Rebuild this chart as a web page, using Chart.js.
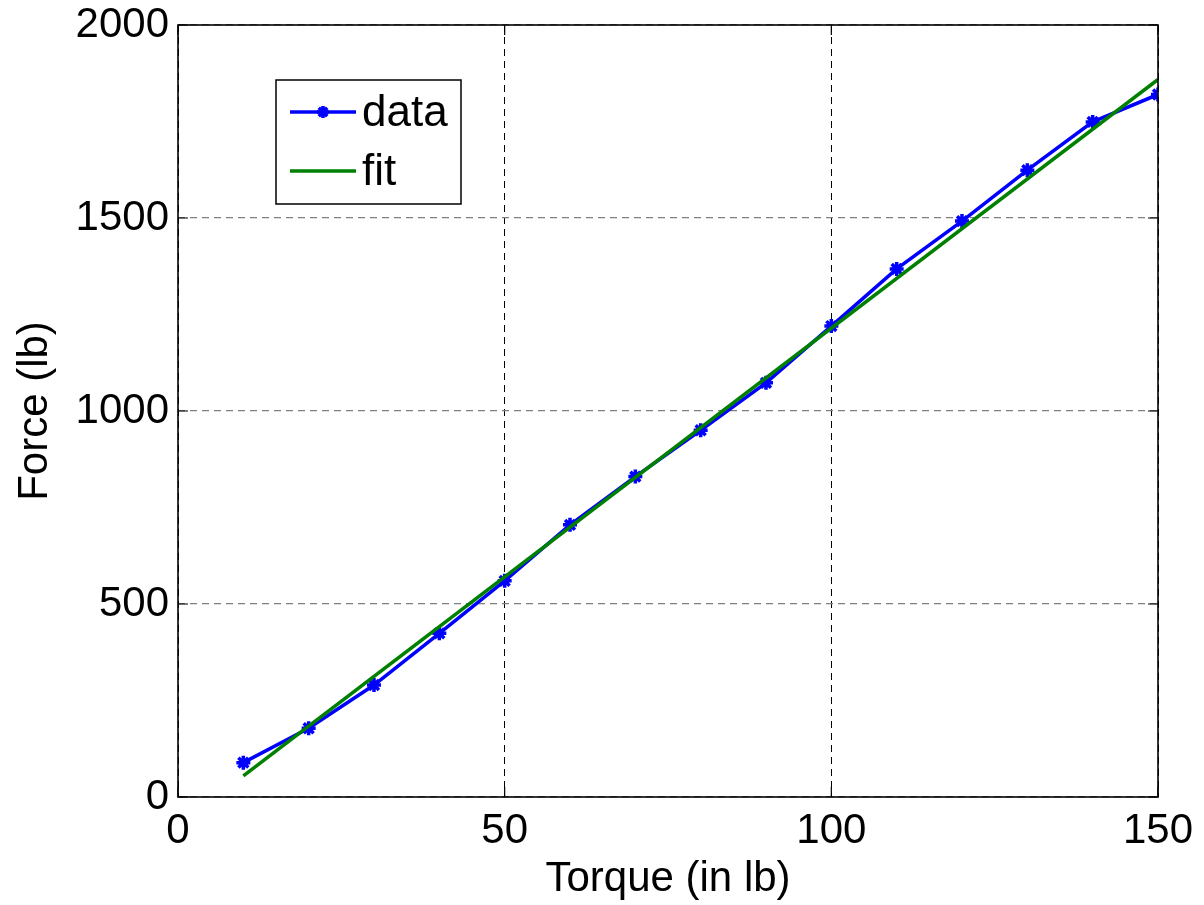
<!DOCTYPE html>
<html>
<head>
<meta charset="utf-8">
<script src="https://cdn.jsdelivr.net/npm/chart.js@4/dist/chart.umd.min.js"></script>
<style>
html,body{margin:0;padding:0;background:#fff;}
#wrap{width:1204px;height:905px;position:relative;}
</style>
</head>
<body>
<div id="wrap"><canvas id="c" width="1204" height="905"></canvas></div>
<script>
const torque = [10, 20, 30, 40, 50, 60, 70, 80, 90, 100, 110, 120, 130, 140, 150];
const force = [89, 178, 290, 424, 560, 705, 830, 950, 1073, 1220, 1368, 1492, 1624, 1749, 1820];
const fitX = [10, 150];
const fitY = [55, 1859];
const xTicks = [0, 50, 100, 150];
const yTicks = [0, 500, 1000, 1500, 2000];
const xTitle = 'Torque (in lb)';
const yTitle = 'Force (lb)';
const seriesLabels = ['data', 'fit'];

const FONT = 'Liberation Sans, Arial, sans-serif';

const boxPlugin = {
  id: 'boxPlugin',
  afterDatasetsDraw(chart) {
    const {ctx, chartArea: a, scales} = chart;
    ctx.save();
    // inward ticks
    ctx.strokeStyle = '#000';
    ctx.lineWidth = 1.2;
    ctx.beginPath();
    xTicks.forEach(v => {
      const x = scales.x.getPixelForValue(v);
      ctx.moveTo(x, a.bottom); ctx.lineTo(x, a.bottom - 10);
      ctx.moveTo(x, a.top); ctx.lineTo(x, a.top + 10);
    });
    yTicks.forEach(v => {
      const y = scales.y.getPixelForValue(v);
      ctx.moveTo(a.left, y); ctx.lineTo(a.left + 10, y);
      ctx.moveTo(a.right, y); ctx.lineTo(a.right - 10, y);
    });
    ctx.stroke();
    // box
    ctx.lineWidth = 1.6;
    ctx.strokeRect(a.left, a.top, a.right - a.left, a.bottom - a.top);
    // legend
    const lx = 276, ly = 80, lw = 185, lh = 124;
    ctx.fillStyle = '#fff';
    ctx.fillRect(lx, ly, lw, lh);
    ctx.strokeStyle = '#000';
    ctx.lineWidth = 1.5;
    ctx.strokeRect(lx, ly, lw, lh);
    const rows = [112, 171];
    chart.data.datasets.forEach((ds, i) => {
      const y = rows[i];
      ctx.strokeStyle = ds.borderColor;
      ctx.lineWidth = 3.5;
      ctx.beginPath();
      ctx.moveTo(290, y); ctx.lineTo(356, y);
      ctx.stroke();
      if (ds.pointRadius > 0) {
        ctx.fillStyle = ds.borderColor;
        Chart.helpers.drawPoint(ctx, {pointStyle: 'star', radius: 6, borderWidth: 3, rotation: 0}, 323, y);
      }
      ctx.fillStyle = '#000';
      ctx.font = '44px ' + FONT;
      ctx.textBaseline = 'middle';
      ctx.textAlign = 'left';
      ctx.fillText(ds.label, 362, y + 2);
    });
    ctx.restore();
  }
};

new Chart(document.getElementById('c'), {
  type: 'scatter',
  data: {
    datasets: [
      {
        label: seriesLabels[0],
        data: torque.map((t, i) => ({x: t, y: force[i]})),
        showLine: true,
        borderColor: '#0000ff',
        backgroundColor: '#0000ff',
        borderWidth: 3.5,
        pointStyle: 'star',
        pointRadius: 7,
        pointBorderWidth: 3.5,
        pointBorderColor: '#0000ff',
        order: 1
      },
      {
        label: seriesLabels[1],
        data: fitX.map((t, i) => ({x: t, y: fitY[i]})),
        showLine: true,
        borderColor: '#008000',
        backgroundColor: '#008000',
        borderWidth: 3.5,
        pointRadius: 0,
        order: 0
      }
    ]
  },
  options: {
    responsive: false,
    animation: false,
    devicePixelRatio: 1,
    layout: {padding: {left: 0, right: 46, top: 25, bottom: 0}},
    plugins: {legend: {display: false}, tooltip: {enabled: false}},
    scales: {
      x: {
        type: 'linear', min: 0, max: 150,
        afterBuildTicks: s => { s.ticks = xTicks.map(v => ({value: v})); },
        afterFit: s => { s.height = 108; s.paddingLeft = 0; s.paddingRight = 0; },
        grid: {color: '#000', lineWidth: 1, drawTicks: false},
        border: {display: false, dash: [7, 5]},
        ticks: {color: '#000', font: {family: FONT, size: 42}, padding: 9, maxRotation: 0, callback: v => String(v)},
        title: {display: true, text: xTitle, color: '#000', font: {family: FONT, size: 42}, padding: {top: 0, bottom: 0}}
      },
      y: {
        type: 'linear', min: 0, max: 2000,
        afterBuildTicks: s => { s.ticks = yTicks.map(v => ({value: v})); },
        afterFit: s => { s.width = 178; s.paddingTop = 0; s.paddingBottom = 0; },
        grid: {color: '#7f7f7f', lineWidth: 1.3, drawTicks: false},
        border: {display: false, dash: [7, 5]},
        ticks: {color: '#000', font: {family: FONT, size: 42}, padding: 9, callback: v => String(v)},
        title: {display: true, text: yTitle, color: '#000', font: {family: FONT, size: 42}, padding: {top: 10, bottom: 0}}
      }
    }
  },
  plugins: [boxPlugin]
});
</script>
</body>
</html>
